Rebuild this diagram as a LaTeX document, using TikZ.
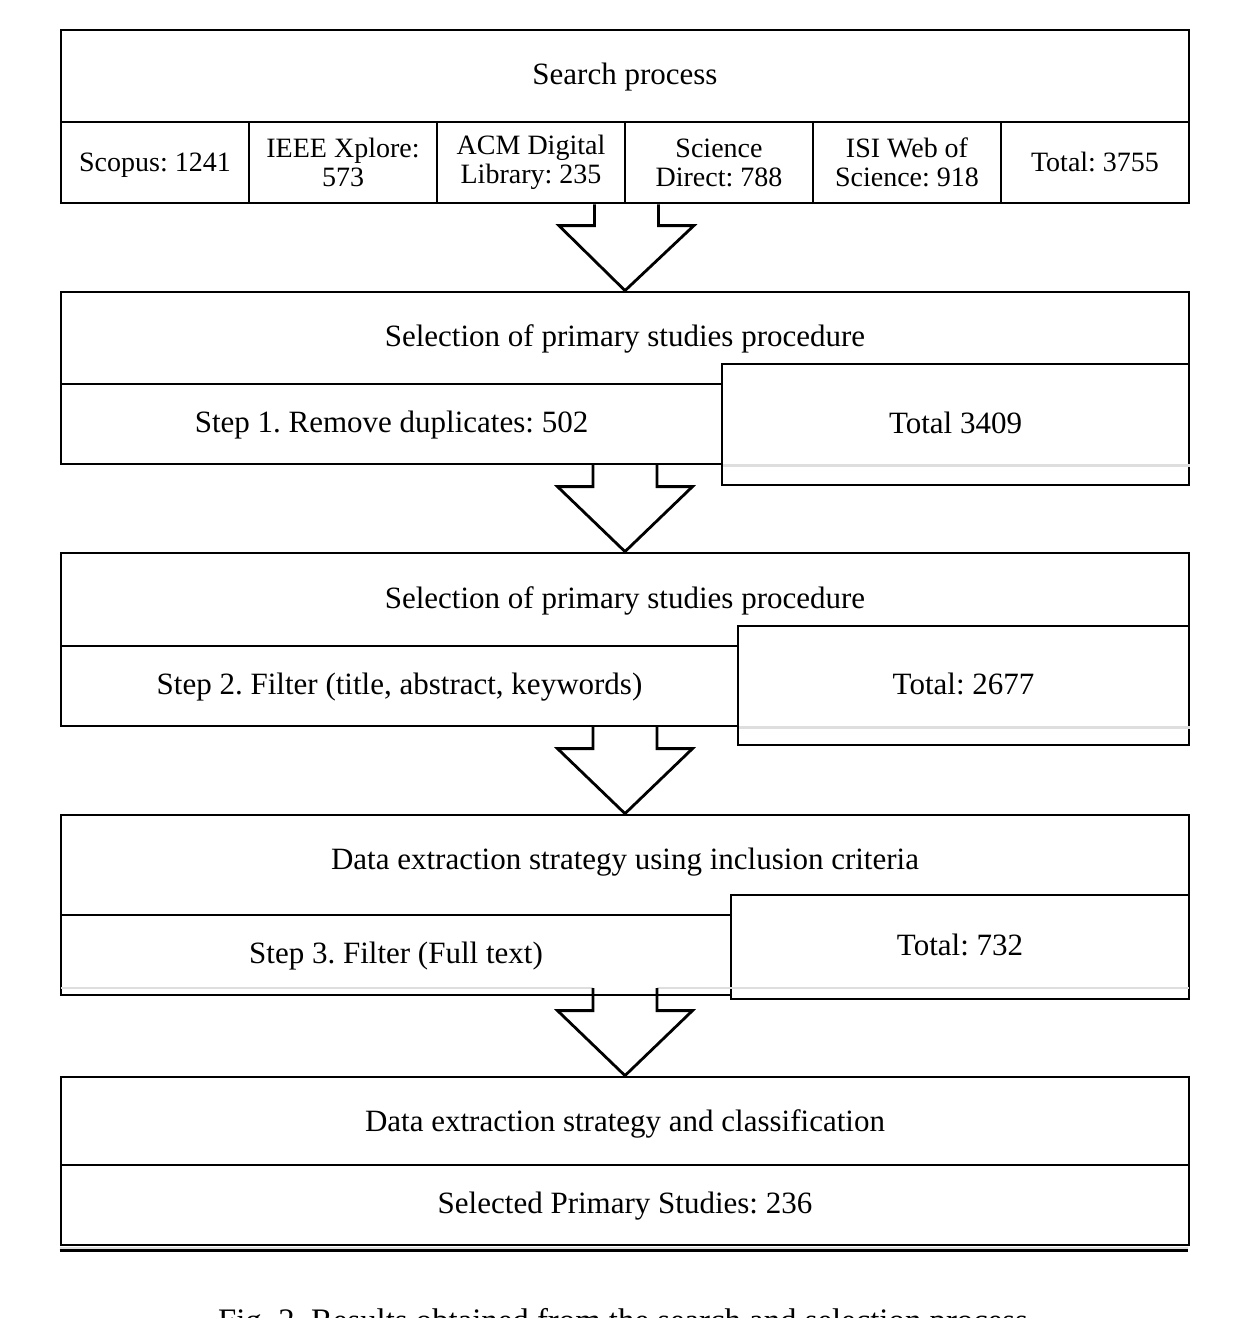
\documentclass[tikz,border=0pt]{standalone}
\usepackage{fontspec}
\setmainfont{Liberation Serif}
\usetikzlibrary{calc}
\tikzset{
  txt/.style={font=\fontsize{15.5}{14.5}\selectfont\frenchspacing, text height=0.86em, text depth=0em},
  frame/.style={draw=black, line width=1.4pt, fill=white, rectangle, inner sep=0pt},
  bx/.style={frame, txt},
  cell/.style={frame, align=center, font=\fontsize{14}{14.5}\selectfont\frenchspacing,
    minimum width=94pt, minimum height=40.5pt},
  cell1/.style={cell, text height=0.86em, text depth=0em},
  arrowline/.style={draw=black, line width=1.4pt, line join=miter},
  grayline/.style={draw=black!13, line width=1.4pt},
}
\newcommand\blockarrow[2]{%
  \draw[arrowline] let \p1=(#1), \p2=(#2) in
    (\x1-16pt,\y1) -- (\x1-16pt,\y2+32.5pt) -- (\x1-33.75pt,\y2+32.5pt) -- (\x2,\y2)
    -- (\x1+33.75pt,\y2+32.5pt) -- (\x1+16pt,\y2+32.5pt) -- (\x1+16pt,\y1);}
\begin{document}
\begin{tikzpicture}[x=0.5pt,y=-0.5pt]
\clip (0,0) rectangle (1244,1318);
\useasboundingbox (0,0) rectangle (1244,1318);
% ---------- Box 1
\node[bx, minimum width=564pt, minimum height=46pt] (h1) at (625,76) {Search process};
\node[cell1] (c1) at (155,162.5) {Scopus: 1241};
\foreach \i/\cx/\t in {2/343/{IEEE Xplore:\\573}, 3/531/{ACM Digital\\Library: 235},
  4/719/{Science\\Direct: 788}, 5/907/{ISI Web of\\Science: 918}}
  \node[cell] (c\i) at (\cx,162.5) {\t};
\node[cell1] (c6) at (1095,162.5) {Total: 3755};
% ---------- Box 2
\node[bx, minimum width=564pt, minimum height=46pt] (h2) at (625,338) {Selection of primary studies procedure};
\node[bx, minimum width=330.5pt, minimum height=40pt] (l2) at (391.5,424) {Step 1. Remove duplicates: 502};
\node[bx, minimum width=233.5pt, minimum height=60.5pt] (r2) at (955.5,424.5) {Total 3409};
\draw[grayline] (l2.south east) -- (r2.east |- l2.south);
% ---------- Box 3
\node[bx, minimum width=564pt, minimum height=46.5pt] (h3) at (625,599.5) {Selection of primary studies procedure};
\node[bx, minimum width=338.5pt, minimum height=40pt] (l3) at (399.5,686) {Step 2. Filter (title, abstract, keywords)};
\node[bx, minimum width=225.5pt, minimum height=59.5pt] (r3) at (963.5,685.5) {Total: 2677};
\draw[grayline] (l3.south east) -- (r3.east |- l3.south);
% ---------- Box 4
\node[frame, minimum width=564pt, minimum height=50pt] (h4) at (625,865) {};
\node[txt] (t4) at (625,861) {Data extraction strategy using inclusion criteria};
\node[bx, minimum width=335pt, minimum height=40pt] (l4) at (396,955) {Step 3. Filter (Full text)};
\node[bx, minimum width=229pt, minimum height=52pt] (r4) at (960,947) {Total: 732};
\draw[grayline] (61,988) -- (593,988);
\draw[grayline] (657,988) -- (731,988);
\draw[grayline] (731,988) -- (1189,988);
% ---------- Box 5
\node[frame, minimum width=564pt, minimum height=44pt] (h5) at (625,1121) {};
\node[txt] (t5) at (625,1123) {Data extraction strategy and classification};
\node[bx, minimum width=564pt, minimum height=40pt] (l5) at (625,1205) {Selected Primary Studies: 236};
\draw[grayline] (l5.south west) ++(0,2) -- ++(1128,0);
\draw[draw=black, line width=1.4pt] (l5.south west) ++(0,4) -- ++(1128,0);
% ---------- Arrows
\coordinate (a1) at (c3.south east);
\blockarrow{a1}{h2.north}
\coordinate (a2) at (625,464);
\blockarrow{a2}{h3.north}
\coordinate (a3) at (625,726);
\blockarrow{a3}{h4.north}
\coordinate (a4) at (625,988);
\blockarrow{a4}{h5.north}
% ---------- Caption
\node[font=\fontsize{16.4}{17}\selectfont\frenchspacing, anchor=base] (cap) at (623,1331) {Fig. 2. Results obtained from the search and selection process};
\end{tikzpicture}
\end{document}
